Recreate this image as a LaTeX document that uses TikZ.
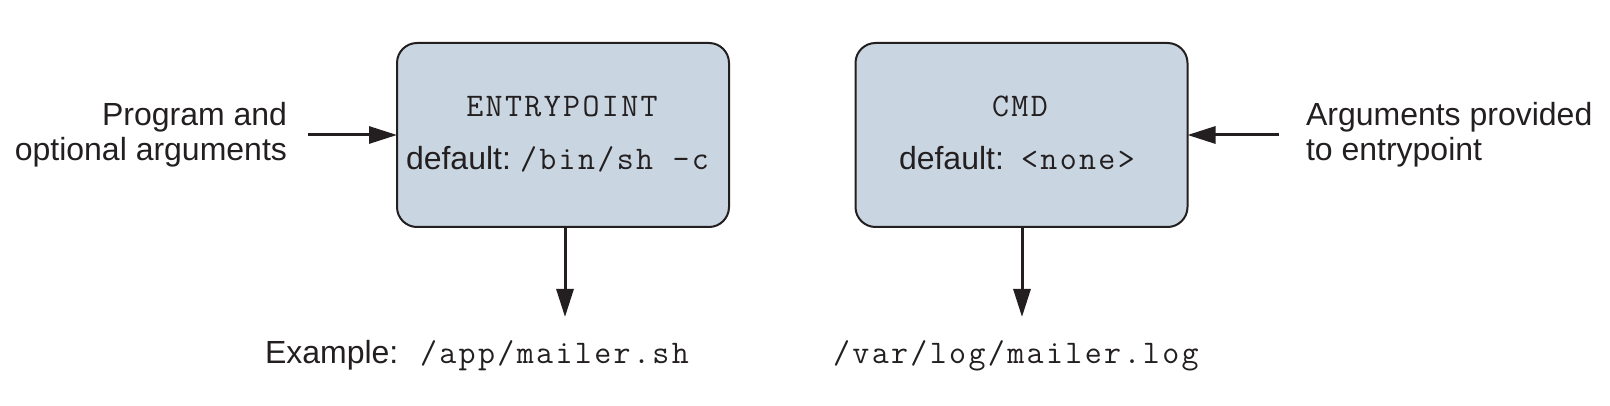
\documentclass[tikz,border=0pt]{standalone}
\usepackage{fontspec}
\setmainfont{Liberation Sans}
\newfontfamily\mono{Latin Modern Mono}[LetterSpace=7.2]
\usetikzlibrary{arrows.meta}
\definecolor{boxfill}{HTML}{C9D6E1}
\definecolor{ink}{HTML}{231F20}
\begin{document}
\begin{tikzpicture}[x=1pt,y=-1pt,
  every node/.style={inner sep=0pt,outer sep=0pt,text=ink,font=\fontsize{32}{35}\selectfont},
  monotxt/.style={font=\fontsize{33}{35}\selectfont\mono},
  bigbox/.style={draw=ink,fill=boxfill,line width=2pt,rounded corners=20pt,
    minimum width=332pt,minimum height=184pt},
  conn/.style={draw=ink,line width=3pt,-{Triangle[length=28pt,width=17pt]}},
  lbl/.style={anchor=base west}]
\useasboundingbox (0,0) rectangle (1610,406);
% boxes
\node[bigbox] (entry) at (563,135) {};
\node[bigbox] (cmd) at (1021.5,135) {};
% box texts
\node[anchor=base,monotxt] (entrytitle) at (562,117) {ENTRYPOINT};
\node[lbl] (entrydef) at (406,170) {default:};
\node[lbl,monotxt] (entrybin) at (520,170) {/bin/sh -c};
\node[anchor=base,monotxt] (cmdtitle) at (1020,117) {CMD};
\node[lbl] (cmddef) at (899,170) {default:};
\node[lbl,monotxt] (cmdnone) at (1021,170) {<none>};
% side labels
\node[anchor=base east] (progA) at (287,126) {Program and};
\node[anchor=base east] (progB) at (287,161) {optional arguments};
\node[lbl] (argA) at (1306,126) {Arguments provided};
\node[lbl] (argB) at (1306,161) {to entrypoint};
% bottom labels
\node[lbl] (example) at (265,363) {Example:};
\node[lbl,monotxt] (app) at (420,363) {/app/mailer.sh};
\node[lbl,monotxt] (varlog) at (833,363) {/var/log/mailer.log};
% connector ends
\coordinate (intail) at (308,135);
\coordinate (argtail) at (1279,135);
\coordinate (entryout) at (565,317);
\coordinate (cmdout) at (1022,317);
% connectors
\draw[conn] (intail) -- (entry.west);
\draw[conn] (argtail) -- (cmd.east);
\draw[conn] (entry.south -| entryout) -- (entryout);
\draw[conn] (cmd.south -| cmdout) -- (cmdout);
\end{tikzpicture}
\end{document}
